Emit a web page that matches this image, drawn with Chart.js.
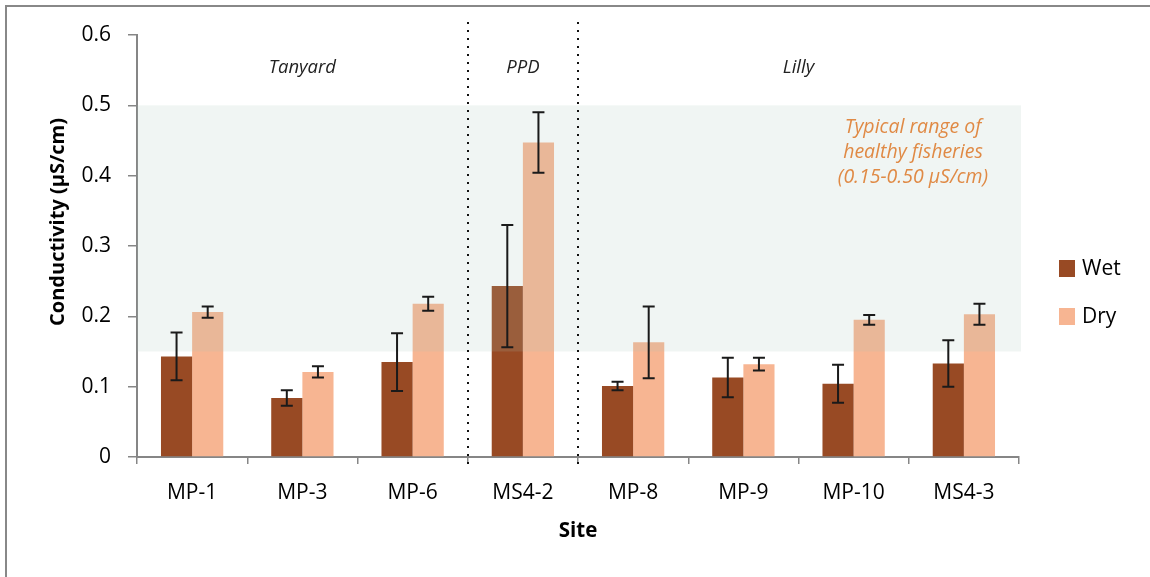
<!DOCTYPE html>
<html>
<head>
<meta charset="utf-8">
<script src="https://cdn.jsdelivr.net/npm/chart.js@4.4.0/dist/chart.umd.min.js"></script>
<style>
    body { margin: 0; background: #fff; }
    #frame {
        position: absolute; left: 5px; top: 5px; width: 1200px; height: 650px;
        border-top: 2px solid #888; border-left: 2px solid #888;
    }
    #wrap { position: absolute; left: 0; top: 0; width: 1150px; height: 577px; }
</style>
</head>
<body>
<div id="frame"></div>
<div id="wrap"><canvas id="chart" width="1150" height="577"></canvas></div>
<script>
// Data
const sites = ['MP-1', 'MP-3', 'MP-6', 'MS4-2', 'MP-8', 'MP-9', 'MP-10', 'MS4-3'];
const wetValues = [0.143, 0.084, 0.135, 0.243, 0.101, 0.113, 0.104, 0.133];
const wetErrors = [0.034, 0.011, 0.041, 0.087, 0.006, 0.028, 0.027, 0.033];
const dryValues = [0.206, 0.121, 0.218, 0.447, 0.163, 0.132, 0.195, 0.203];
const dryErrors = [0.008, 0.008, 0.010, 0.043, 0.051, 0.009, 0.007, 0.015];
const groupNames = ['Tanyard', 'PPD', 'Lilly'];
const groupRanges = [[0, 2], [3, 3], [4, 7]];
const rangeLow = 0.15;
const rangeHigh = 0.5;
const rangeNote = ['Typical range of', 'healthy fisheries', '(0.15-0.50 µS/cm)'];

const FONT = '"Open Sans", Lato, sans-serif';
const WET = '#984a24';
const DRY = '#f7b592';
const AXIS = '#868686';

// Shaded band, error bars, group dividers, labels and legend
const overlay = {
    id: 'overlay',
    afterDatasetsDraw(chart) {
        const ctx = chart.ctx;
        const area = chart.chartArea;
        const x = chart.scales.x;
        const y = chart.scales.y;

        // healthy range band, drawn over the bars
        ctx.save();
        ctx.fillStyle = 'rgba(165, 195, 182, 0.17)';
        const top = y.getPixelForValue(rangeHigh);
        const bot = y.getPixelForValue(rangeLow);
        ctx.fillRect(area.left, top, area.right - area.left + 2, bot - top);

        // error bars
        ctx.strokeStyle = '#1a1a1a';
        ctx.lineWidth = 2;
        const errs = [wetErrors, dryErrors];
        const vals = [wetValues, dryValues];
        chart.data.datasets.forEach((ds, d) => {
            chart.getDatasetMeta(d).data.forEach((bar, i) => {
                const hi = y.getPixelForValue(vals[d][i] + errs[d][i]);
                const lo = y.getPixelForValue(vals[d][i] - errs[d][i]);
                ctx.beginPath();
                ctx.moveTo(bar.x, hi); ctx.lineTo(bar.x, lo);
                ctx.moveTo(bar.x - 6, hi); ctx.lineTo(bar.x + 6, hi);
                ctx.moveTo(bar.x - 6, lo); ctx.lineTo(bar.x + 6, lo);
                ctx.stroke();
            });
        });

        // dotted group dividers
        ctx.fillStyle = '#111';
        for (let g = 0; g < groupRanges.length - 1; g++) {
            const last = groupRanges[g][1];
            const px = Math.round((x.getPixelForValue(last) + x.getPixelForValue(last + 1)) / 2);
            for (let py = 22; py <= area.bottom + 8; py += 8) {
                ctx.fillRect(px - 1, py, 2, 2);
            }
        }

        // group names
        ctx.fillStyle = '#222';
        ctx.font = 'italic 18.5px ' + FONT;
        ctx.textAlign = 'center';
        ctx.textBaseline = 'middle';
        groupNames.forEach((name, g) => {
            const [a, b] = groupRanges[g];
            const cx = (x.getPixelForValue(a) + x.getPixelForValue(b)) / 2;
            ctx.fillText(name, cx, 68);
        });

        // range note
        ctx.fillStyle = '#e08a45';
        ctx.font = 'italic 19.5px ' + FONT;
        rangeNote.forEach((line, k) => ctx.fillText(line, 913, 127 + k * 25));

        // y axis title
        ctx.save();
        ctx.translate(58, 222);
        ctx.rotate(-Math.PI / 2);
        ctx.fillStyle = '#000';
        ctx.font = 'bold 20px ' + FONT;
        ctx.fillText('Conductivity (µS/cm)', 0, 0);
        ctx.restore();

        // legend
        ctx.font = '21px ' + FONT;
        ctx.textAlign = 'left';
        chart.data.datasets.forEach((ds, d) => {
            const cy = 269 + d * 48;
            ctx.fillStyle = ds.backgroundColor;
            ctx.fillRect(1059, cy - 9, 16, 17);
            ctx.fillStyle = '#000';
            ctx.fillText(ds.label, 1082, cy);
        });
        ctx.restore();
    }
};

new Chart(document.getElementById('chart'), {
    type: 'bar',
    data: {
        labels: sites,
        datasets: [
            { label: 'Wet', data: wetValues, backgroundColor: WET },
            { label: 'Dry', data: dryValues, backgroundColor: DRY }
        ]
    },
    options: {
        responsive: false,
        animation: false,
        layout: { padding: { top: 35, right: 131, left: 0, bottom: 0 } },
        categoryPercentage: 0.565,
        barPercentage: 1,
        plugins: {
            legend: { display: false },
            tooltip: { enabled: false }
        },
        scales: {
            x: {
                afterFit: scale => { scale.height = 120; },
                grid: { drawOnChartArea: false, color: AXIS, tickLength: 7, lineWidth: 1.5 },
                border: { color: AXIS, width: 2 },
                ticks: { color: '#000', font: { family: FONT, size: 21 }, padding: 16 },
                title: {
                    display: true, text: 'Site', color: '#000',
                    font: { family: FONT, size: 20.5, weight: 'bold' },
                    padding: { top: 0, bottom: 34 }
                }
            },
            y: {
                min: 0, max: 0.6,
                afterFit: scale => { scale.width = 137; },
                grid: { drawOnChartArea: false, color: AXIS, tickLength: 9, lineWidth: 1.5 },
                border: { color: AXIS, width: 2 },
                ticks: {
                    stepSize: 0.1, color: '#000', padding: 17,
                    font: { family: FONT, size: 21 },
                    callback: v => (Math.round(v * 10) / 10).toString()
                }
            }
        }
    },
    plugins: [overlay]
});
</script>
</body>
</html>
